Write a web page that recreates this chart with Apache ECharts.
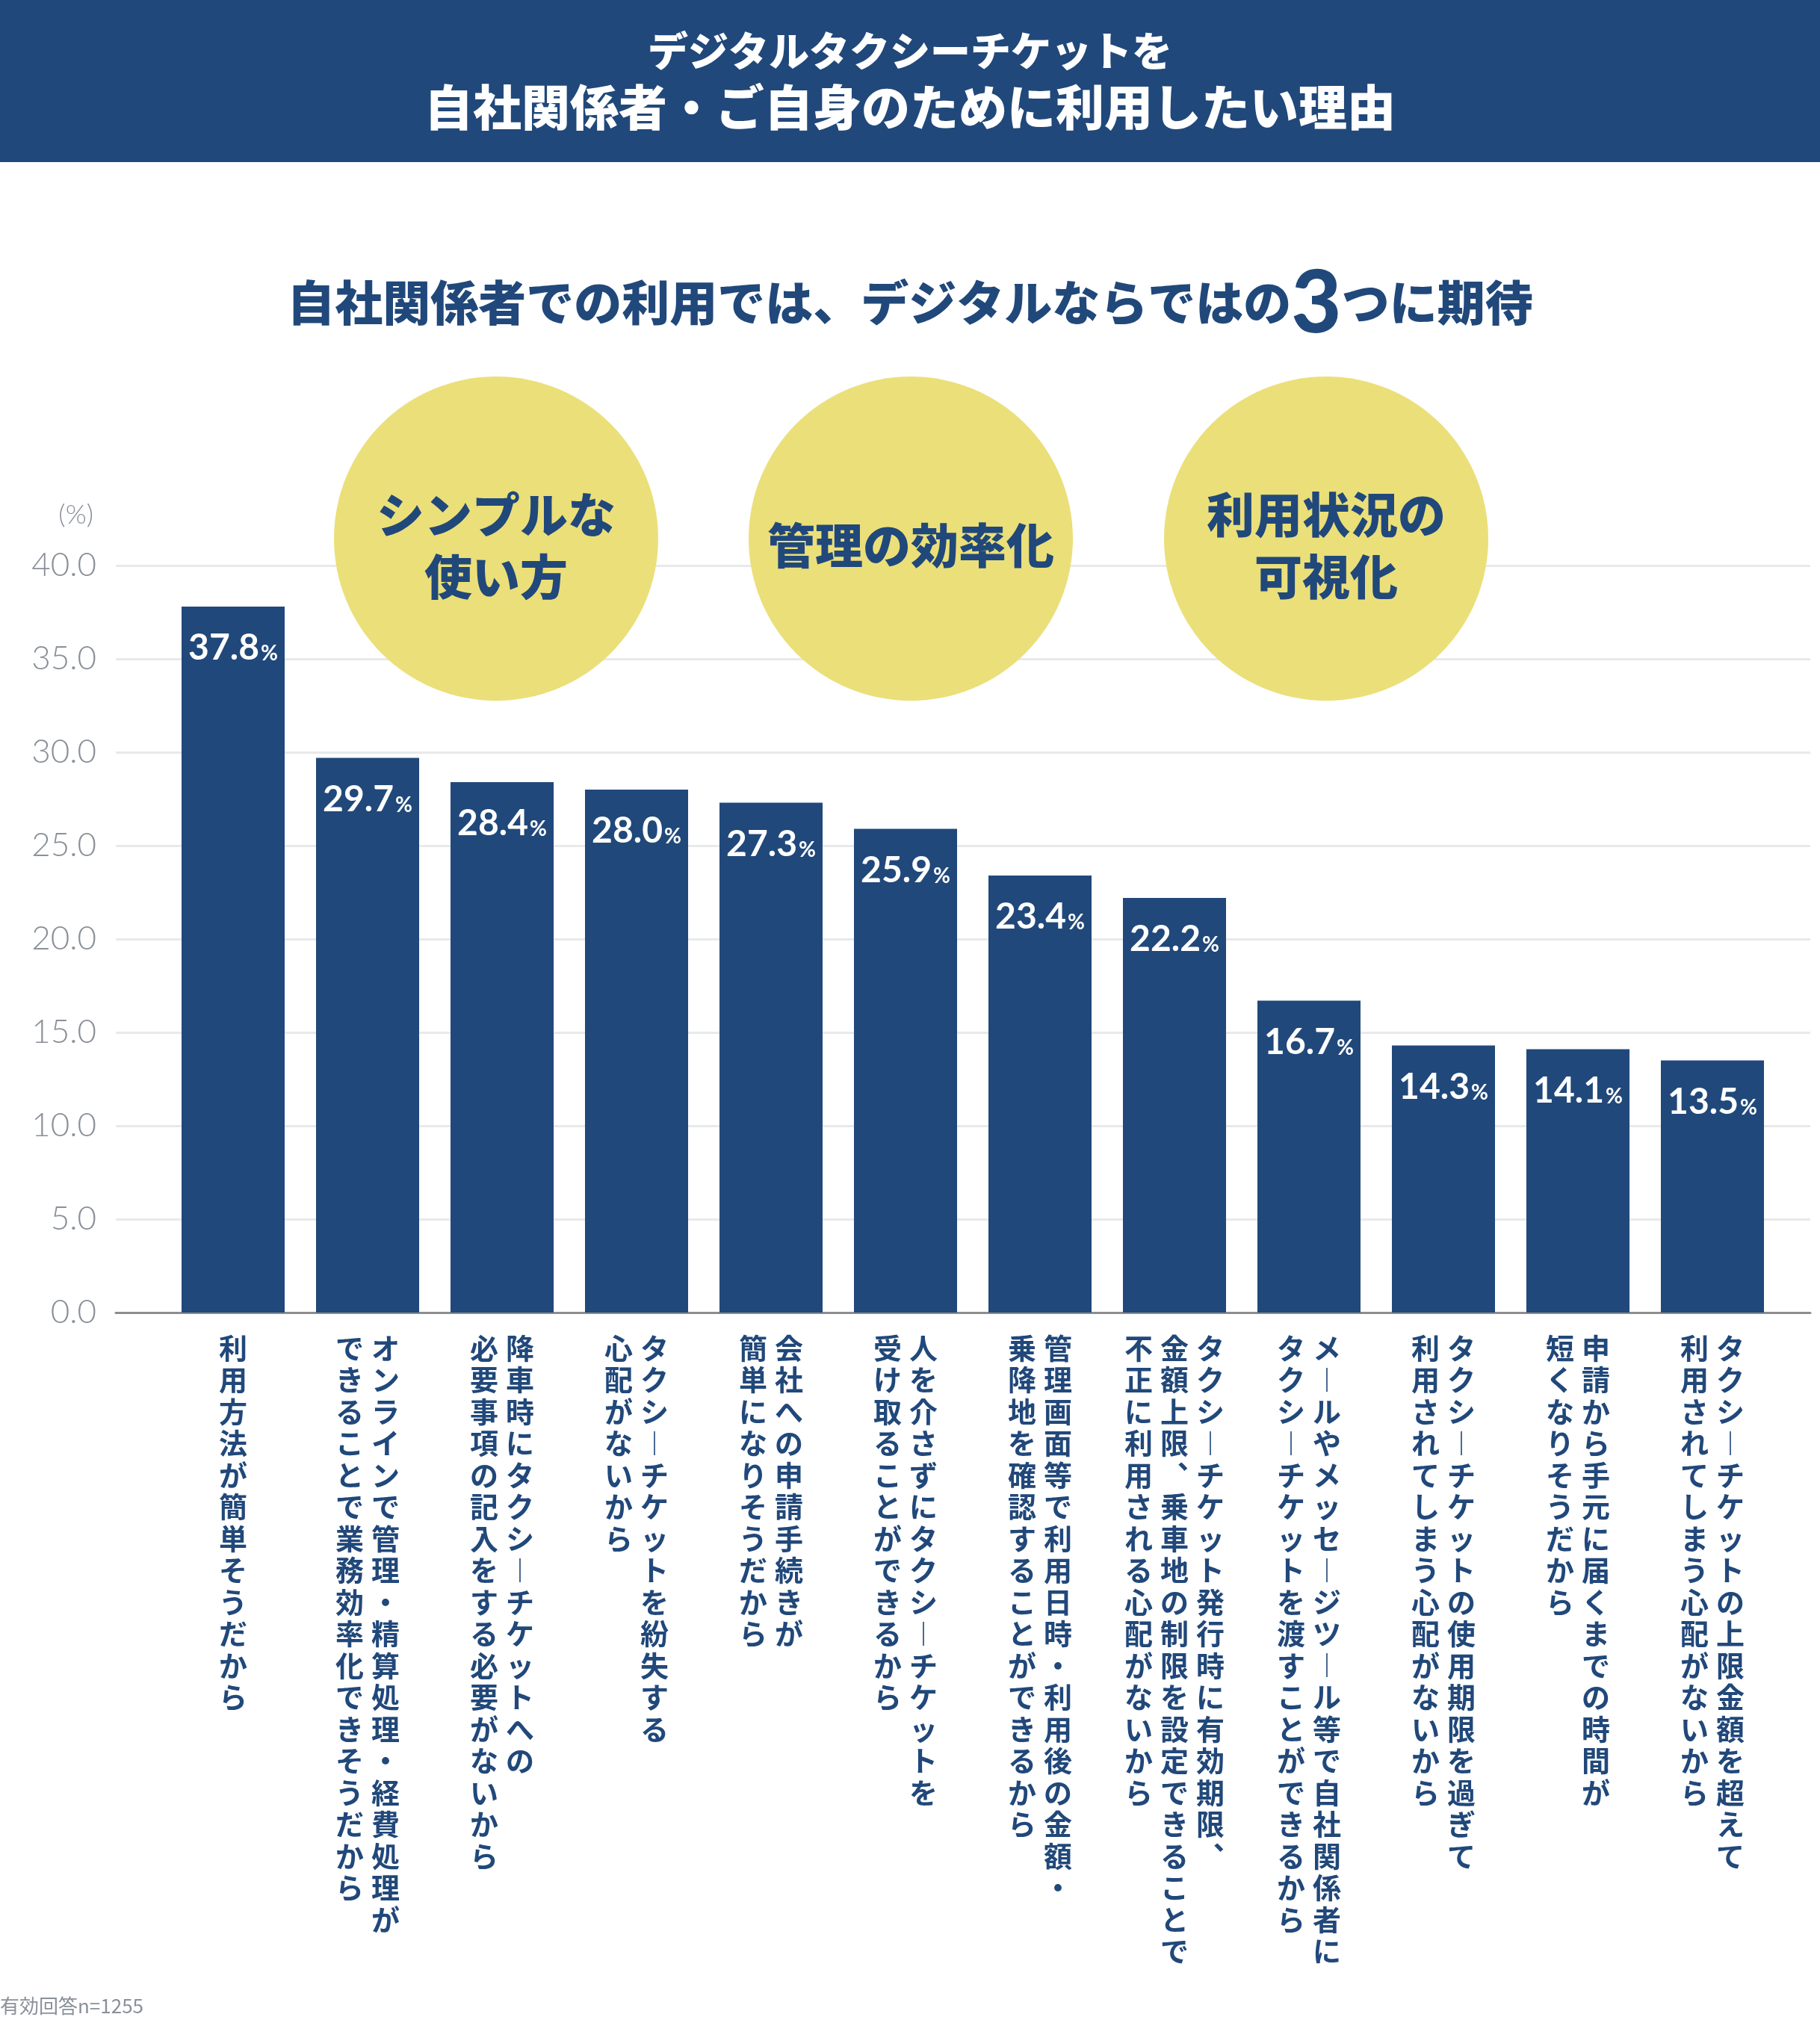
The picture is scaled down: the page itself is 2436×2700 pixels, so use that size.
<!DOCTYPE html>
<html>
<head>
<meta charset="utf-8">
<title>デジタルタクシーチケット 利用理由</title>
<script src="https://cdn.jsdelivr.net/npm/echarts@6/dist/echarts.min.js"></script>
<style>
  html, body { margin: 0; padding: 0; background: #fff; }
  #main { width: 2436px; height: 2700px; }
</style>
</head>
<body>
<div id="main"></div>
<script>
// 棒のラベル（縦書き、右の列から順に）
var categories = [
  ['利用方法が簡単そうだから'],
  ['オンラインで管理・精算処理・経費処理が', 'できることで業務効率化できそうだから'],
  ['降車時にタクシーチケットへの', '必要事項の記入をする必要がないから'],
  ['タクシーチケットを紛失する', '心配がないから'],
  ['会社への申請手続きが', '簡単になりそうだから'],
  ['人を介さずにタクシーチケットを', '受け取ることができるから'],
  ['管理画面等で利用日時・利用後の金額・', '乗降地を確認することができるから'],
  ['タクシーチケット発行時に有効期限、', '金額上限、乗車地の制限を設定できることで', '不正に利用される心配がないから'],
  ['メールやメッセージツール等で自社関係者に', 'タクシーチケットを渡すことができるから'],
  ['タクシーチケットの使用期限を過ぎて', '利用されてしまう心配がないから'],
  ['申請から手元に届くまでの時間が', '短くなりそうだから'],
  ['タクシーチケットの上限金額を超えて', '利用されてしまう心配がないから']
];
var values = [37.8, 29.7, 28.4, 28.0, 27.3, 25.9, 23.4, 22.2, 16.7, 14.3, 14.1, 13.5];
var highlights = ['シンプルな\n使い方', '管理の効率化', '利用状況の\n可視化'];
var headerLines = ['デジタルタクシーチケットを', '自社関係者・ご自身のために利用したい理由'];
var subtitle = ['自社関係者での利用では、デジタルならではの', '3', 'つに期待'];
var note = '有効回答n=1255';

var NAVY = '#21487a';
var YELLOW = '#ebdf7a';
var GRAY = '#8a9099';
var JP = '"Noto Sans CJK JP", sans-serif';

// 縦書き用：1文字ずつ改行し、列は左から並べる
function verticalLabel(text) {
  var cols = text.split('/').map(function (s) {
    return Array.from(s.replace(/、/g, '︑'));
  });
  var rows = Math.max.apply(null, cols.map(function (c) { return c.length; }));
  var lines = [];
  for (var i = 0; i < rows; i++) {
    var line = '';
    for (var j = cols.length - 1; j >= 0; j--) {
      var ch = cols[j][i] || '　';
      // 長音は縦棒で短めに
      line += ch === 'ー' ? '{d|｜}' : '{c|' + ch + '}';
    }
    lines.push(line);
  }
  return lines.join('\n');
}

var myChart = echarts.init(document.getElementById('main'));

var circleX = [664, 1219, 1775];
var graphics = [
  { type: 'rect', shape: { x: 0, y: 0, width: 2436, height: 217 }, style: { fill: NAVY }, z: 10 },
  { type: 'text', x: 1218, y: 68, z: 11, style: { text: headerLines[0], fill: '#fff', font: '900 54px ' + JP, align: 'center', verticalAlign: 'middle' } },
  { type: 'text', x: 1218, y: 143, z: 11, style: { text: headerLines[1], fill: '#fff', font: '900 65px ' + JP, align: 'center', verticalAlign: 'middle' } },
  { type: 'text', x: 1218, y: 406, z: 11, style: {
      text: '{m|' + subtitle[0] + '}{n|' + subtitle[1] + '}{m|' + subtitle[2] + '}',
      align: 'center', verticalAlign: 'middle',
      rich: {
        m: { fontSize: 64, fontWeight: 900, fontFamily: JP, fill: NAVY, color: NAVY, lineHeight: 120, verticalAlign: 'bottom', padding: [0, 0, 29, 0] },
        n: { fontSize: 116, fontWeight: 900, fontFamily: 'Lato, sans-serif', fill: NAVY, color: NAVY, lineHeight: 120, verticalAlign: 'bottom' }
      }
  } },
  { type: 'text', x: 0, y: 2685, z: 11, style: { text: note, fill: GRAY, font: '26px ' + JP, align: 'left', verticalAlign: 'middle' } }
];
highlights.forEach(function (t, i) {
  graphics.push({ type: 'circle', z: 10, shape: { cx: circleX[i], cy: 721, r: 217 }, style: { fill: YELLOW } });
  graphics.push({ type: 'text', z: 11, x: circleX[i], y: 730, style: {
    text: t, fill: NAVY, font: '900 64px ' + JP, lineHeight: 83, align: 'center', verticalAlign: 'middle'
  } });
});

var labelChar = { width: 48, align: 'center', fontSize: 38, lineHeight: 42.5, fontWeight: 'bold', color: NAVY, fontFamily: JP };

var option = {
  animation: false,
  backgroundColor: '#fff',
  graphic: graphics,
  grid: [
    { left: 155, right: 13, top: 757, bottom: 943 },
    { left: 222, right: 54, top: 757, bottom: 943 }
  ],
  xAxis: [
    {
      gridIndex: 0, type: 'value', min: 0, max: 1,
      axisLine: { show: true, lineStyle: { color: '#8d8d8d', width: 3 } },
      axisTick: { show: false }, axisLabel: { show: false }, splitLine: { show: false }
    },
    {
      gridIndex: 1, type: 'category',
      data: categories.map(function (c) { return c.join('/'); }),
      axisLine: { show: false }, axisTick: { show: false },
      axisLabel: {
        interval: 0, margin: 26, verticalAlign: 'top', align: 'center',
        formatter: verticalLabel,
        rich: {
          c: labelChar,
          d: Object.assign({}, labelChar, { fontSize: 32, fontWeight: 900 })
        }
      }
    }
  ],
  yAxis: [
    {
      gridIndex: 0, type: 'value', min: 0, max: 40, interval: 5,
      name: '(%)', nameLocation: 'end', nameGap: 50,
      nameTextStyle: { color: GRAY, fontSize: 36, fontFamily: 'Lato, sans-serif', fontWeight: 300, align: 'right', padding: [0, 30, 0, 0] },
      axisLine: { show: false }, axisTick: { show: false },
      axisLabel: {
        margin: 26, color: GRAY, fontSize: 44, fontFamily: 'Lato, sans-serif', fontWeight: 300,
        formatter: function (v) { return v.toFixed(1); }
      },
      splitLine: { lineStyle: { color: '#e8e9eb', width: 3 } }
    },
    {
      gridIndex: 1, type: 'value', min: 0, max: 40, show: false
    }
  ],
  series: [
    {
      type: 'bar', xAxisIndex: 1, yAxisIndex: 1,
      data: values, barWidth: 138,
      itemStyle: { color: NAVY },
      label: {
        show: true, position: 'insideTop', distance: 30,
        formatter: function (p) { return '{a|' + p.value.toFixed(1) + '}{b|%}'; },
        rich: {
          a: { fontSize: 48, fontWeight: 'bold', fontFamily: 'Lato, sans-serif', color: '#fff', lineHeight: 50, verticalAlign: 'bottom' },
          b: { fontSize: 28, fontWeight: 'bold', fontFamily: 'Lato, sans-serif', color: '#fff', lineHeight: 50, verticalAlign: 'bottom', padding: [0, 0, 3, 2] }
        }
      }
    }
  ]
};
myChart.setOption(option);
</script>
</body>
</html>
